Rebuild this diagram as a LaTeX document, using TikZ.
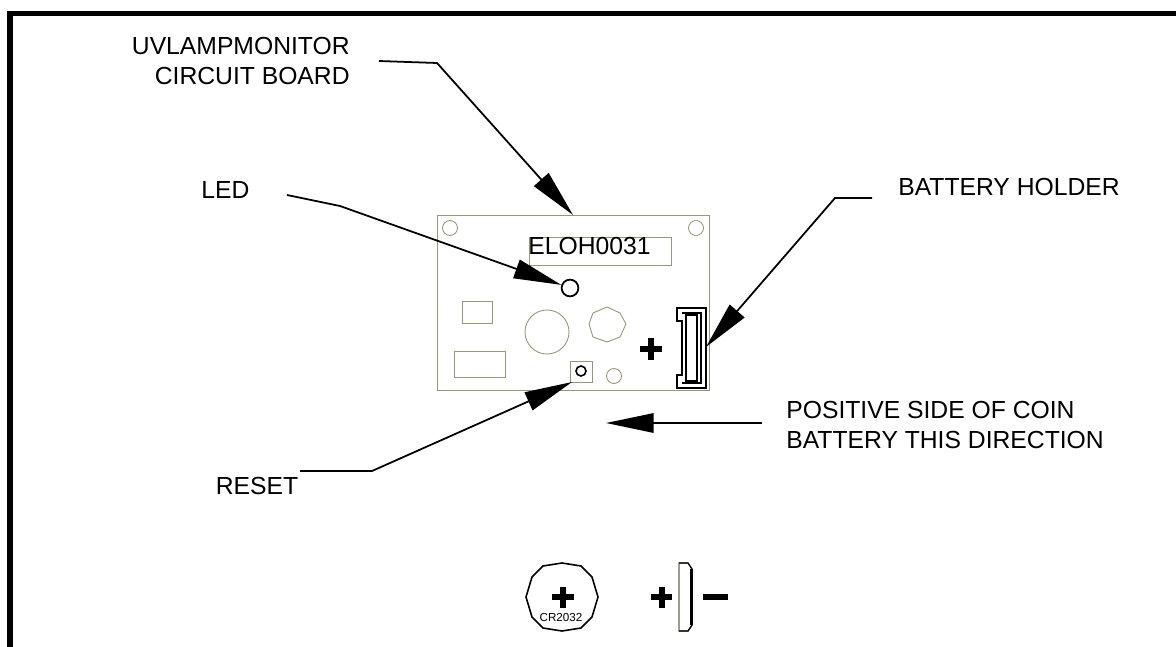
\documentclass[tikz,border=0pt]{standalone}
\usepackage{fontspec}
\setmainfont{Liberation Sans}
\usetikzlibrary{arrows.meta}
\definecolor{boardline}{RGB}{150,150,120}
\tikzset{
  label/.style={inner sep=0pt,align=center,font=\fontsize{14}{17}\selectfont},
  leader/.style={-{Triangle[length=27pt,width=11pt]},line width=1pt},
  part/.style={draw=boardline,line width=0.5pt},
  darkpart/.style={draw=black,line width=0.9pt},
  sign/.style={line width=3.4pt},
}
\begin{document}
\begin{tikzpicture}[x=0.5669pt,y=-0.5669pt]
        \useasboundingbox(0,0)rectangle(1176,647);
        \draw[line width=3.1pt](10,647)--(10,13.4)--(1176,13.4);

        % board
        \draw[part](437,215)rectangle(709,390);
        \draw[part](450,228)circle(7.5);
        \draw[part](696,228)circle(7.5);
        \draw[part](529,237)rectangle(671,265);
        \node[label,anchor=west](chip)at(528,246){ELOH0031};
        \draw[part](462,301)rectangle(492,323);
        \draw[part](454,351)rectangle(505,377);
        \draw[part](547,332)circle(22);
        \draw[part](607,307)--(620,313)--(626,324)--(620,337)--(607,342)--(593,337)--(589,324)--(593,313)--cycle;
        \draw[part](614,376)circle(7.5);
        \draw[part](570,361)rectangle(592,382);
        \draw[darkpart](581,371)circle(5);
        \node[draw=black,line width=1pt,circle,minimum size=9.5pt,inner sep=0pt](led)at(570,288){};

        % battery holder
        \draw[darkpart](677,308)--(706,308)--(706,388)--(677,388)--(677,375)--(682,375)--(682,321)--(677,321)--cycle;
        \draw[darkpart](682,313)--(701,313)--(701,383)--(682,383);
        \draw[line width=0.6pt](686,315)--(697,315)--(697,381)--(686,381)--cycle;
        \draw[line width=1.2pt](697,316)--(697,380);

        % plus and minus signs
        \draw[sign](640,349)--(662,349)(651,338)--(651,360);
        \draw[sign](552,597)--(574,597)(563,587)--(563,608);
        \draw[sign](651,597)--(672,597)(661.5,587)--(661.5,608);
        \draw[sign](703,597)--(728,597);

        % coin battery
        \draw[line width=0.9pt](562,563)--(581,566)--(592,577)--(598,597)--(592,617)--(581,628)--(562,631)--(543,628)--(532,617)--(526,597)--(532,577)--(543,566)--cycle;
        \node[label,font=\fontsize{6.6}{8}\selectfont](coin)at(561,617){CR2032};
        \draw[draw=boardline!70!black,line width=0.7pt,fill=white](679,563)--(688,563)--(692,569)--(692,625)--(688,631)--(679,631)--cycle;
        \draw[line width=1.4pt](691.5,569)--(691.5,625);
        \draw[line width=0.7pt](679,563)--(688,563)--(692,569)(692,625)--(688,631)--(679,631);

        % labels
        \node[label,align=right,anchor=east](uvlamp)at(350,61){UVLAMPMONITOR\\CIRCUIT BOARD};
        \node[label](ledtext)at(225.5,190){LED};
        \node[label](holder)at(1009,187){BATTERY HOLDER};
        \node[label,align=left,anchor=west](positive)at(786,425){POSITIVE SIDE OF COIN\\BATTERY THIS DIRECTION};
        \node[label](reset)at(257,486){RESET};

        \coordinate(boardtop)at(573,215);
        \coordinate(holderside)at(706,347);
        \coordinate(resetpad)at(572,382);
        \coordinate(dirend)at(606,423);

        \draw[leader](379,61)--(437,63)--(boardtop);
        \draw[leader](287,195)--(340,206)--(led);
        \draw[leader](872,198)--(835,198)--(holderside);
        \draw[leader](762,423)--(dirend);
        \draw[leader](300,471)--(372,471)--(resetpad);
    \end{tikzpicture}
\end{document}
